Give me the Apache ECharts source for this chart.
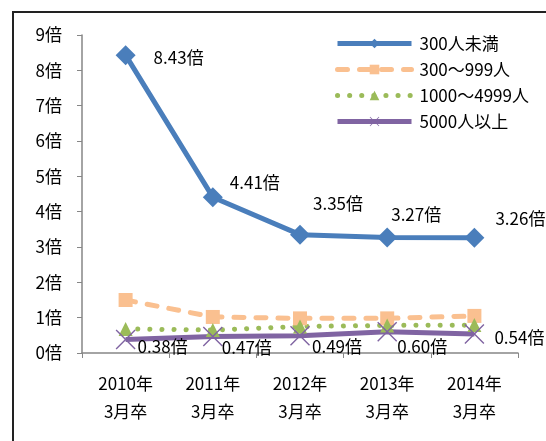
<!DOCTYPE html>
<html>
<head>
<meta charset="utf-8">
<script src="https://cdn.jsdelivr.net/npm/echarts@6/dist/echarts.min.js"></script>
<style>
  html, body { margin: 0; padding: 0; background: #fff; }
  #chart { width: 546px; height: 441px; }
</style>
</head>
<body>
<div id="chart"></div>
<script>
// categories
const years = ['2010年\n3月卒', '2011年\n3月卒', '2012年\n3月卒', '2013年\n3月卒', '2014年\n3月卒']
const yTicks = [0, 1, 2, 3, 4, 5, 6, 7, 8, 9]

// series values (倍)
const under300 = [8.43, 4.41, 3.35, 3.27, 3.26]
const from300 = [1.50, 1.02, 0.98, 0.98, 1.05]
const from1000 = [0.68, 0.65, 0.75, 0.78, 0.79]
const over5000 = [0.38, 0.47, 0.49, 0.60, 0.54]

// label nudges (Excel placed them by hand)
const blueLabelOffset = [[18, 2], [7, -15], [3, -31], [-6, -23], [11, -19]]
const purpleLabelOffset = [[2, 7], [-1, 11], [2, 11], [0, 15], [10, 4]]

const font = '"Noto Sans CJK JP", sans-serif'
const fs = 17
const crossPath = 'path://M0,1L1,0L10,9L19,0L20,1L11,10L20,19L19,20L10,11L1,20L0,19L9,10Z'

const withLabels = (values, offsets) => values.map((v, i) => ({
  value: v,
  label: { offset: offsets[i] }
}))

const chart = echarts.init(document.getElementById('chart'))
chart.setOption({
  animation: false,
  textStyle: { fontFamily: font },
  grid: { left: 82, right: 28, top: 35, bottom: 88 },
  legend: {
    orient: 'vertical',
    left: 330,
    top: 30,
    itemWidth: 74,
    itemHeight: 12,
    itemGap: 9,
    lineStyle: { width: 5 },
    textStyle: { fontSize: fs, color: '#000', fontFamily: font, padding: [0, 0, 0, 3] },
    data: ['300人未満', '300～999人', '1000～4999人', '5000人以上']
  },
  xAxis: {
    type: 'category',
    data: years,
    axisLine: { lineStyle: { color: '#868686', width: 1.5 } },
    axisTick: { show: true, length: 5, lineStyle: { color: '#868686' } },
    axisLabel: { color: '#000', fontSize: fs, lineHeight: 28, margin: 17, fontFamily: font }
  },
  yAxis: {
    type: 'value',
    min: yTicks[0],
    max: yTicks[yTicks.length - 1],
    interval: 1,
    splitLine: { show: false },
    axisLine: { show: true, lineStyle: { color: '#868686', width: 1.5 } },
    axisTick: { show: true, length: 5, lineStyle: { color: '#868686' } },
    axisLabel: {
      color: '#000', fontSize: fs, margin: 20, fontFamily: font,
      formatter: v => v + '倍'
    }
  },
  graphic: [
    { type: 'line', shape: { x1: 12, y1: 12, x2: 546, y2: 12 }, style: { stroke: '#222', lineWidth: 2 } },
    { type: 'line', shape: { x1: 13, y1: 12, x2: 13, y2: 441 }, style: { stroke: '#222', lineWidth: 2 } }
  ],
  series: [
    {
      name: '300～999人',
      type: 'line',
      data: from300,
      symbol: 'rect',
      symbolSize: 14,
      itemStyle: { color: '#FAC090' },
      lineStyle: { color: '#FAC090', width: 5, type: [10, 12], cap: 'round' }
    },
    {
      name: '1000～4999人',
      type: 'line',
      data: from1000,
      symbol: 'triangle',
      symbolSize: 14,
      itemStyle: { color: '#9BBB59' },
      lineStyle: { color: '#9BBB59', width: 5, type: [0.1, 12], cap: 'round' }
    },
    {
      name: '5000人以上',
      type: 'line',
      data: withLabels(over5000, purpleLabelOffset),
      symbol: crossPath,
      symbolSize: 20,
      itemStyle: { color: '#8064A2' },
      lineStyle: { color: '#8064A2', width: 5 },
      label: {
        show: true, position: 'right', distance: 0, color: '#000', fontSize: fs, fontFamily: font,
        formatter: p => p.value.toFixed(2) + '倍'
      }
    },
    {
      name: '300人未満',
      type: 'line',
      data: withLabels(under300, blueLabelOffset),
      symbol: 'diamond',
      symbolSize: 20,
      itemStyle: { color: '#4A7EBB' },
      lineStyle: { color: '#4A7EBB', width: 5 },
      label: {
        show: true, position: 'right', distance: 0, color: '#000', fontSize: fs, fontFamily: font,
        formatter: p => p.value.toFixed(2) + '倍'
      }
    }
  ]
})
</script>
</body>
</html>
